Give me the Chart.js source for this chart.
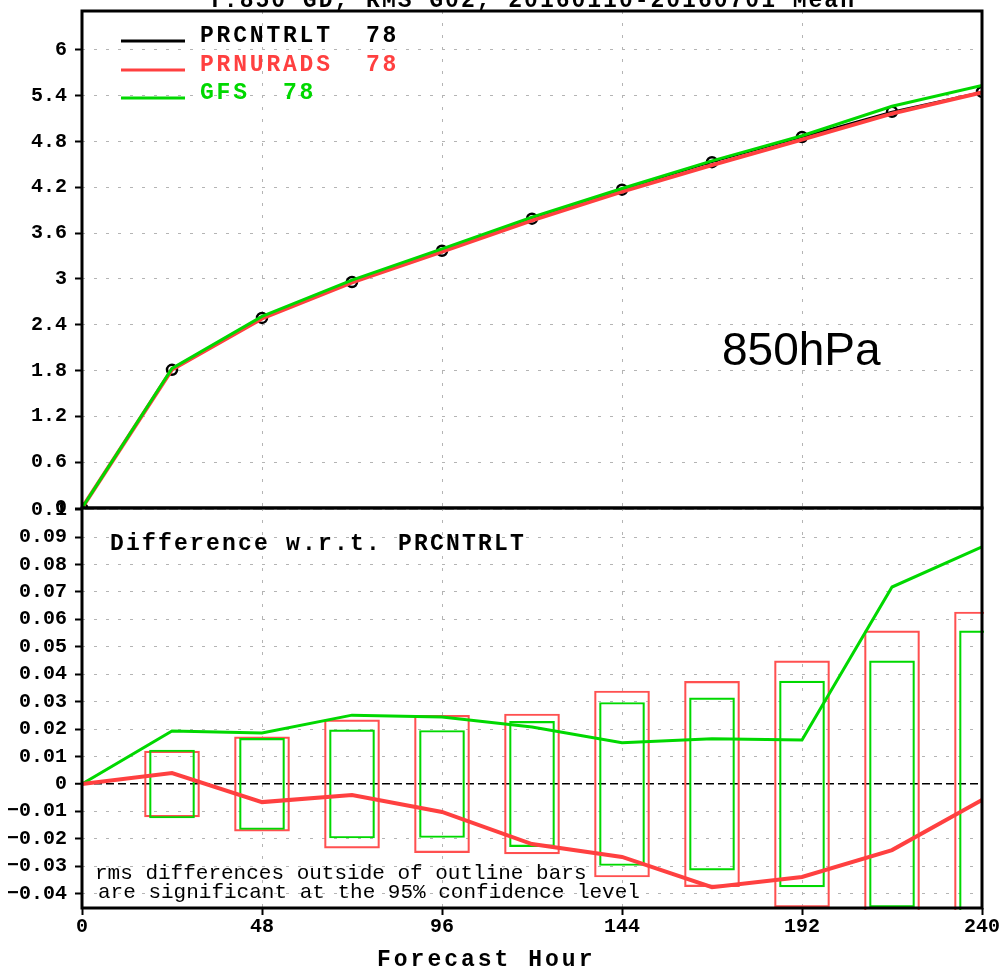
<!DOCTYPE html>
<html>
<head>
<meta charset="utf-8">
<title>850hPa RMS</title>
<script src="https://cdn.jsdelivr.net/npm/chart.js@4/dist/chart.umd.min.js"></script>
<style>
  html, body { margin: 0; padding: 0; background: #fff; }
  #wrap { position: relative; width: 1004px; height: 970px; overflow: hidden; }
  #top-chart { position: absolute; left: 0; top: 0; }
  #diff-chart { position: absolute; left: 0; top: 500px; }
</style>
</head>
<body>
<div id="wrap">
  <canvas id="top-chart" width="1004" height="520"></canvas>
  <canvas id="diff-chart" width="1004" height="470"></canvas>
</div>
<script>
// forecast hours and rms values
const hours = [0, 24, 48, 72, 96, 120, 144, 168, 192, 216, 240];
const prcntrlt = [0, 1.81, 2.49, 2.96, 3.37, 3.79, 4.17, 4.53, 4.86, 5.19, 5.45];
const prnurads = [0, 1.814, 2.483, 2.956, 3.36, 3.768, 4.143, 4.492, 4.826, 5.166, 5.444];
const gfs = [0, 1.829, 2.509, 2.985, 3.394, 3.811, 4.185, 4.547, 4.876, 5.262, 5.536];

// differences w.r.t. PRCNTRLT
const diffNurads = [0, 0.004, -0.0066, -0.004, -0.0102, -0.0219, -0.0266, -0.0376, -0.0339, -0.0241, -0.0058];
const diffGfs = [0, 0.0193, 0.0186, 0.0251, 0.0244, 0.0208, 0.015, 0.0165, 0.016, 0.0718, 0.0864];

// significance outline bars (half heights)
const boxHours = [24, 48, 72, 96, 120, 144, 168, 192, 216, 240];
const boxNurads = [0.012, 0.0172, 0.0234, 0.025, 0.0255, 0.0339, 0.0374, 0.0449, 0.0558, 0.0627];
const boxGfs = [0.0124, 0.0166, 0.0197, 0.0195, 0.0228, 0.0297, 0.0314, 0.0375, 0.0449, 0.0558];

// tick labels
const xTicks = [0, 48, 96, 144, 192, 240];
const topTicks = [0, 0.6, 1.2, 1.8, 2.4, 3, 3.6, 4.2, 4.8, 5.4, 6];
const diffTicks = [-0.04, -0.03, -0.02, -0.01, 0, 0.01, 0.02, 0.03, 0.04, 0.05, 0.06, 0.07, 0.08, 0.09, 0.1];

const RED = "#ff4040";
const GREEN = "#00d800";
const GRID = "#b4b4b4";
const MONO = '"Liberation Mono", "DejaVu Sans Mono", monospace';

function points(ys) {
  return hours.map(function (h, i) { return { x: h, y: ys[i] }; });
}

function fixWidth(w) {
  return function (scale) {
    scale.width = w;
    scale.paddingTop = 0;
    scale.paddingBottom = 0;
  };
}

function fixHeight(h) {
  return function (scale) {
    scale.height = h;
    scale.paddingLeft = 0;
    scale.paddingRight = 0;
  };
}

function gradsText(ctx, text, x, y, font, color, spacing) {
  ctx.save();
  ctx.font = font;
  ctx.fillStyle = color;
  ctx.letterSpacing = spacing || "0px";
  ctx.textBaseline = "alphabetic";
  ctx.fillText(text, x, y);
  ctx.restore();
}

// thick black frame around the plot area
const framePlugin = {
  id: "frame",
  afterDraw: function (chart) {
    const a = chart.chartArea;
    const ctx = chart.ctx;
    ctx.save();
    ctx.strokeStyle = "#000";
    ctx.lineWidth = 3;
    ctx.strokeRect(a.left, a.top, a.right - a.left, a.bottom - a.top);
    ctx.restore();
  },
};

const yGrid = {
  color: GRID,
  lineWidth: 1,
  tickColor: "#000",
  tickWidth: 2,
  tickLength: 7,
  offset: false,
};

// top panel: rms error
const topCtx = document.getElementById("top-chart").getContext("2d");
new Chart(topCtx, {
  type: "line",
  data: {
    datasets: [
      {
        label: "PRCNTRLT",
        data: points(prcntrlt),
        borderColor: "#000",
        borderWidth: 2,
        pointRadius: 5,
        pointBorderWidth: 2.5,
        pointBorderColor: "#000",
        pointBackgroundColor: "rgba(0,0,0,0)",
        order: 2,
      },
      {
        label: "PRNURADS",
        data: points(prnurads),
        borderColor: RED,
        borderWidth: 4,
        pointRadius: 0,
        order: 1,
      },
      {
        label: "GFS",
        data: points(gfs),
        borderColor: GREEN,
        borderWidth: 3,
        pointRadius: 0,
        order: 0,
      },
    ],
  },
  options: {
    responsive: false,
    animation: false,
    devicePixelRatio: 1,
    layout: { padding: { left: 0, right: 22, top: 11, bottom: 12 } },
    plugins: { legend: { display: false }, tooltip: { enabled: false } },
    scales: {
      x: {
        type: "linear",
        min: 0,
        max: 240,
        offset: false,
        afterBuildTicks: function (scale) {
          scale.ticks = xTicks.map(function (v) { return { value: v }; });
        },
        afterFit: fixHeight(0),
        ticks: { display: false },
        grid: { color: GRID, drawTicks: false, offset: false },
        border: { display: false, dash: [3, 9] },
      },
      y: {
        min: 0,
        max: 6.51,
        afterBuildTicks: function (scale) {
          scale.ticks = topTicks.map(function (v) { return { value: v }; });
        },
        afterFit: fixWidth(82),
        ticks: {
          color: "#000",
          padding: 8,
          font: { family: MONO, weight: "bold", size: 20 },
          callback: function (v) { return String(v); },
        },
        grid: yGrid,
        border: { display: false, dash: [3, 9] },
      },
    },
  },
  plugins: [
    framePlugin,
    {
      id: "topText",
      afterDraw: function (chart) {
        const ctx = chart.ctx;
        // title, mostly cut off at the top edge
        ctx.save();
        ctx.font = "bold 23px " + MONO;
        ctx.letterSpacing = "2px";
        ctx.textAlign = "center";
        ctx.fillStyle = "#000";
        ctx.fillText("T:850 GD, RMS G02, 20160110-20160701 Mean", 532, 7);
        ctx.restore();

        // legend
        const rows = [
          { text: "PRCNTRLT  78", color: "#000", width: 3, y: 41 },
          { text: "PRNURADS  78", color: RED, width: 3, y: 70 },
          { text: "GFS  78", color: GREEN, width: 3, y: 98 },
        ];
        rows.forEach(function (r) {
          ctx.save();
          ctx.strokeStyle = r.color;
          ctx.lineWidth = r.width;
          ctx.beginPath();
          ctx.moveTo(121, r.y);
          ctx.lineTo(185, r.y);
          ctx.stroke();
          ctx.restore();
          gradsText(ctx, r.text, 200, r.y + 1, "bold 23px " + MONO, r.color, "2.8px");
        });

        gradsText(ctx, "850hPa", 722, 365, '46px "Liberation Sans", Arial, sans-serif', "#000");
      },
    },
  ],
});

// bottom panel: differences
const diffCtx = document.getElementById("diff-chart").getContext("2d");
new Chart(diffCtx, {
  type: "line",
  data: {
    datasets: [
      {
        type: "bar",
        label: "PRNURADS bars",
        data: boxHours.map(function (h, i) { return { x: h, y: [-boxNurads[i], boxNurads[i]] }; }),
        backgroundColor: "rgba(0,0,0,0)",
        borderColor: "#ff5050",
        borderWidth: 1.5,
        borderSkipped: false,
        barThickness: 55,
        grouped: false,
        clip: 2,
        order: 4,
      },
      {
        type: "bar",
        label: "GFS bars",
        data: boxHours.map(function (h, i) { return { x: h, y: [-boxGfs[i], boxGfs[i]] }; }),
        backgroundColor: "rgba(0,0,0,0)",
        borderColor: GREEN,
        borderWidth: 1.5,
        borderSkipped: false,
        barThickness: 45,
        grouped: false,
        clip: 2,
        order: 3,
      },
      {
        label: "PRNURADS",
        data: points(diffNurads),
        borderColor: RED,
        borderWidth: 4,
        pointRadius: 0,
        order: 0,
      },
      {
        label: "GFS",
        data: points(diffGfs),
        borderColor: GREEN,
        borderWidth: 3,
        pointRadius: 0,
        order: 1,
      },
    ],
  },
  options: {
    responsive: false,
    animation: false,
    devicePixelRatio: 1,
    layout: { padding: { left: 0, right: 22, top: 8, bottom: 0 } },
    plugins: { legend: { display: false }, tooltip: { enabled: false } },
    scales: {
      x: {
        type: "linear",
        min: 0,
        max: 240,
        offset: false,
        afterBuildTicks: function (scale) {
          scale.ticks = xTicks.map(function (v) { return { value: v }; });
        },
        afterFit: fixHeight(62),
        ticks: {
          color: "#000",
          padding: 0,
          autoSkip: false,
          maxRotation: 0,
          font: { family: MONO, weight: "bold", size: 20 },
          callback: function (v) { return String(v); },
        },
        grid: yGrid,
        border: { display: false, dash: [3, 9] },
      },
      y: {
        min: -0.0452,
        max: 0.1006,
        beginAtZero: false,
        afterBuildTicks: function (scale) {
          scale.ticks = diffTicks.map(function (v) { return { value: v }; });
        },
        afterFit: fixWidth(82),
        ticks: {
          color: "#000",
          padding: 8,
          font: { family: MONO, weight: "bold", size: 20 },
          callback: function (v) {
            if (v === 0) return "0";
            if (v === 0.1) return "0.1";
            return v.toFixed(2).replace("-", "\u2212");
          },
        },
        grid: {
          color: function (c) { return c.tick && c.tick.value === 0 ? "#000" : GRID; },
          lineWidth: function (c) { return c.tick && c.tick.value === 0 ? 1.5 : 1; },
          tickColor: "#000",
          tickWidth: 2,
          tickLength: 7,
          offset: false,
        },
        border: {
          display: false,
          dash: function (c) { return c.tick && c.tick.value === 0 ? [8, 4] : [3, 9]; },
        },
      },
    },
  },
  plugins: [
    framePlugin,
    {
      id: "diffText",
      afterDraw: function (chart) {
        const ctx = chart.ctx;
        gradsText(ctx, "Difference w.r.t. PRCNTRLT", 110, 50, "bold 23px " + MONO, "#000", "2.2px");
        gradsText(ctx, "rms differences outside of outline bars", 95, 379, "21px " + MONO, "#000", "0px");
        gradsText(ctx, "are significant at the 95% confidence level", 98, 398, "21px " + MONO, "#000", "0px");
        gradsText(ctx, "Forecast Hour", 377, 466, "bold 23px " + MONO, "#000", "3px");
      },
    },
  ],
});
</script>
</body>
</html>
